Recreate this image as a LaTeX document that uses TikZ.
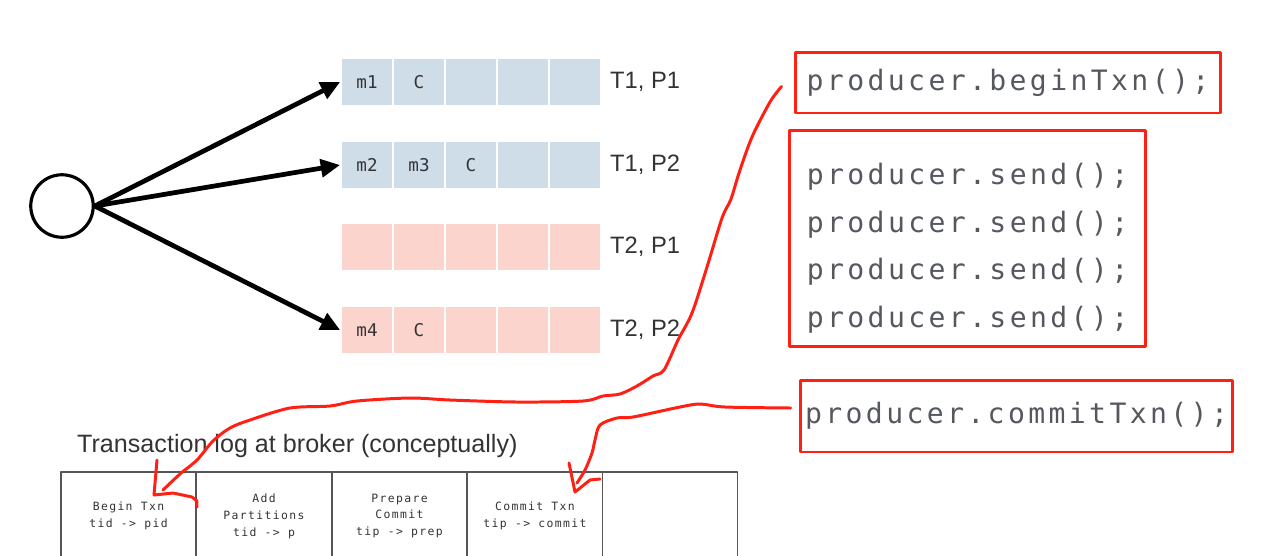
\documentclass[tikz,border=0pt]{standalone}
\usepackage{fontspec}
\setmainfont{Liberation Sans}
\newfontfamily\codefont[LetterSpace=12]{DejaVu Sans Mono}
\newfontfamily\cellfont{DejaVu Sans Mono}
\usetikzlibrary{arrows.meta}
\definecolor{txnblue}{HTML}{CFDDE8}
\definecolor{txnpink}{HTML}{FCD4CE}
\definecolor{inkred}{HTML}{FF2014}
\definecolor{codegray}{HTML}{55595F}
\definecolor{loggray}{HTML}{555555}

\begin{document}
\begin{tikzpicture}[x=0.02cm,y=-0.02cm,line cap=round,line join=round,
  cell/.style={fill=#1,draw=white,line width=1pt,minimum width=1.04cm,minimum height=0.96cm,inner sep=0pt,
    font=\cellfont\fontsize{10}{12}\selectfont,text=black!80},
  codebox/.style={draw=inkred,line width=1.7pt,inner sep=0pt,align=left,
    font=\codefont\fontsize{16}{27.2}\selectfont,text=codegray},
  logcell/.style={draw=loggray,line width=1.1pt,minimum width=2.7cm,minimum height=1.76cm,inner sep=0pt,align=center,
    font=\codefont\fontsize{6.5}{9.6}\selectfont,text=black!80},
  ink/.style={draw=inkred,line width=1.7pt}]
\useasboundingbox (0,0) rectangle (1270,555);
\clip (0,0) rectangle (1270,555);

% producer and the four partitions
\node[circle,draw,line width=1.8pt,minimum size=1.25cm,inner sep=0pt] (prod) at (62,206) {};
\foreach \row/\y/\col/\cells/\lab in {1/82/txnblue/{m1,C,{},{},{}}/{T1, P1},
    2/165/txnblue/{m2,m3,C,{},{}}/{T1, P2},
    3/247/txnpink/{{},{},{},{},{}}/{T2, P1},
    4/330/txnpink/{m4,C,{},{},{}}/{T2, P2}}{
  \foreach \t [count=\k] in \cells
    \node[cell=\col] (r\row-\k) at ({315+52*\k},\y) {\t};
  \node[anchor=west,font=\fontsize{13.5}{16}\selectfont,text=black!80] (lab\row) at (604,\y) {\lab};
}
\foreach \row in {1,2,4}
  \draw[-{Triangle[length=11pt,width=10pt]},line width=2.7pt] (prod.east) -- (r\row-1.west);

% code
\node[codebox,minimum width=8.52cm,minimum height=1.22cm] (begin) at (1008,82.5) {producer.beginTxn();};
\node[codebox,minimum width=7.14cm,minimum height=4.34cm] (send) at (967.5,238.5)
  {\raisebox{-4.5pt}[\height][\depth]{\begin{tabular}{@{}l@{}}producer.send();\\producer.send();\\producer.send();\\producer.send();\end{tabular}}};
\node[codebox,minimum width=8.66cm,minimum height=1.44cm] (commit) at (1016.5,416) {producer.commitTxn();};

% transaction log
\node[anchor=west,font=\fontsize{14.3}{16}\selectfont,text=black!80] (title) at (71,446) {Transaction log at broker (conceptually)};
\node[logcell] (log1) at (128.5,516) {Begin Txn\\tid -> pid};
\node[logcell] (log2) at (264,516) {Add\\Partitions\\tid -> p};
\node[logcell] (log3) at (399.5,516) {Prepare\\Commit\\tip -> prep};
\node[logcell] (log4) at (535,516) {Commit Txn\\tip -> commit};
\node[logcell] (log5) at (670,516) {};

% hand drawn marks
\coordinate (tipbegin) at (163,490);
\coordinate (tipcommit) at (577,483);
\draw[ink] plot[smooth,tension=0.5] coordinates {([shift={(-12,4)}]begin.west) (770,102) (752,137) (739,173)
  (731,199) (722,218) (707,267) (692,313) (678,340) (664,370) (653,376) (637,386) (620,394) (603,396)
  (583,401) (517,402) (450,400) (410,398) (357,401) (330,406) (290,408) (250,420) (230,428) (213,441)
  (197,460) (180,474) (tipbegin)};
\draw[ink] (157,460) -- (154,495) -- (173,493) -- (192,497) -- (197,501) -- (197,507);
\draw[ink] plot[smooth,tension=0.5] coordinates {([shift={(-8,-8)}]commit.west) (725,407) (700,404)
  (680,407) (633,417) (617,418) (600,425) (595,440) (592,453) (585,470) (tipcommit)};
\draw[ink] (569,463) -- (575,492) -- (590,480) -- (600,479);
\end{tikzpicture}
\end{document}
